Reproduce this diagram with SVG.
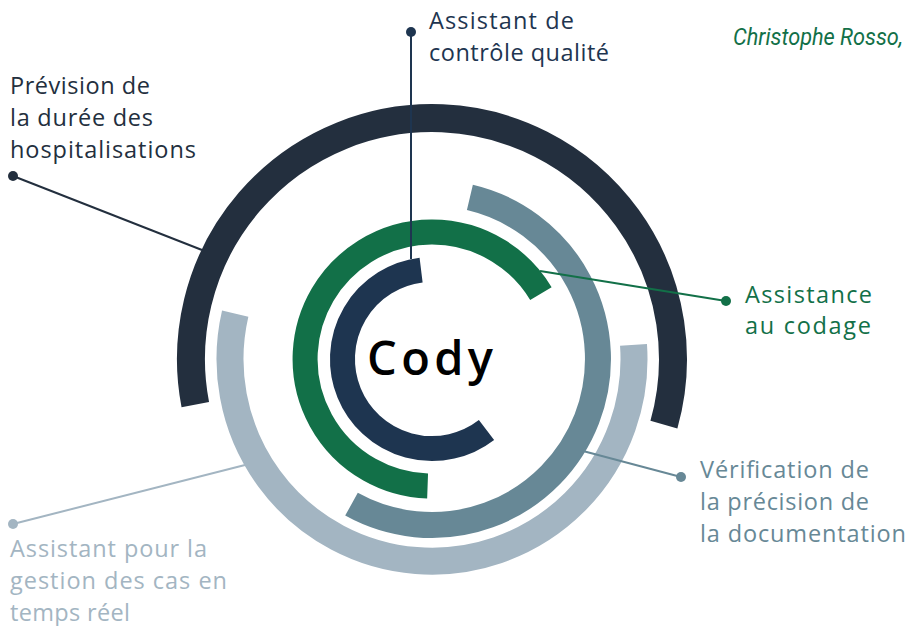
<svg xmlns="http://www.w3.org/2000/svg" width="909" height="626" viewBox="0 0 909 626">
<style>
  .ring{fill:none;stroke-linecap:butt}
  .lbl{font-family:"Open Sans","Liberation Sans",sans-serif;font-size:23.5px}
  .conn{fill:none;stroke-width:2}
  .navy{stroke:#1e3550}.navyf{fill:#1e3550}
  .dark{stroke:#232f3e}.darkf{fill:#232f3e}
  .green{stroke:#127048}.greenf{fill:#127048}
  .slate{stroke:#678896}.slatef{fill:#678896}
  .light{stroke:#a3b5c2}.lightf{fill:#a3b5c2}
</style>
<rect width="909" height="626" fill="#ffffff"/>
<g id="rings">
  <g id="ring-prevision"><path class="ring dark" stroke-width="28" d="M195.3,404.6 A241,241 0 1 1 663.9,424.6"/></g>
  <g id="ring-gestion"><path class="ring light" stroke-width="27" d="M633.5,344.9 A202,202 0 1 1 235.2,313.6"/></g>
  <g id="ring-verification"><path class="ring slate" stroke-width="26" d="M469.9,197.4 A166,166 0 1 1 351.5,504.2"/></g>
  <g id="ring-codage"><path class="ring green" stroke-width="25" d="M427.6,486 A127,127 0 1 1 540.9,293.6"/></g>
  <g id="ring-qualite"><path class="ring navy" stroke-width="25" d="M486.5,430 A89.5,89.5 0 1 1 421.1,270.2"/></g>
</g>
<g id="connectors">
  <line class="conn navy" x1="411" y1="32" x2="411" y2="259"/>
  <circle class="navyf" cx="411" cy="32" r="5"/>
  <line class="conn dark" x1="13" y1="176" x2="202" y2="250"/>
  <circle class="darkf" cx="13" cy="176" r="5"/>
  <line class="conn green" x1="540" y1="271" x2="726" y2="301"/>
  <circle class="greenf" cx="726" cy="301" r="5"/>
  <line class="conn slate" x1="583" y1="451" x2="681" y2="477"/>
  <circle class="slatef" cx="681" cy="477" r="5"/>
  <line class="conn light" x1="13" y1="524" x2="245" y2="465"/>
  <circle class="lightf" cx="13" cy="524" r="5"/>
</g>
<g id="center">
  <text x="430" y="375" text-anchor="middle" font-family="'Open Sans',Lato,sans-serif" font-weight="600" font-size="47" fill="#000000" textLength="126">Cody</text>
</g>
<g id="label-qualite" class="navyf">
  <text class="lbl" x="429" y="29" textLength="145">Assistant de</text>
  <text class="lbl" x="429" y="61" textLength="180">contrôle qualité</text>
</g>
<g id="label-prevision" class="darkf">
  <text class="lbl" x="10" y="94" textLength="140">Prévision de</text>
  <text class="lbl" x="10" y="126" textLength="143">la durée des</text>
  <text class="lbl" x="10" y="158" textLength="186">hospitalisations</text>
</g>
<g id="label-codage" class="greenf">
  <text class="lbl" x="745" y="303" textLength="127">Assistance</text>
  <text class="lbl" x="745" y="334" textLength="126">au codage</text>
</g>
<g id="label-verification" class="slatef">
  <text class="lbl" x="700" y="478" textLength="169">Vérification de</text>
  <text class="lbl" x="700" y="510" textLength="169">la précision de</text>
  <text class="lbl" x="700" y="542" textLength="206">la documentation</text>
</g>
<g id="label-gestion" class="lightf">
  <text class="lbl" x="10" y="557" textLength="197">Assistant pour la</text>
  <text class="lbl" x="10" y="589" textLength="217">gestion des cas en</text>
  <text class="lbl" x="10" y="621" textLength="120">temps réel</text>
</g>
<g id="author">
  <text x="733" y="45" font-family="Roboto,'Liberation Sans',sans-serif" font-style="italic" font-size="24" fill="#127048" textLength="170" lengthAdjust="spacingAndGlyphs">Christophe Rosso,</text>
</g>
<g id="footnote">
  <text x="733" y="637" font-family="'Liberation Sans',sans-serif" font-style="italic" font-size="15" fill="#000000" textLength="172">* Les termes modifiés et</text>
</g>
</svg>
